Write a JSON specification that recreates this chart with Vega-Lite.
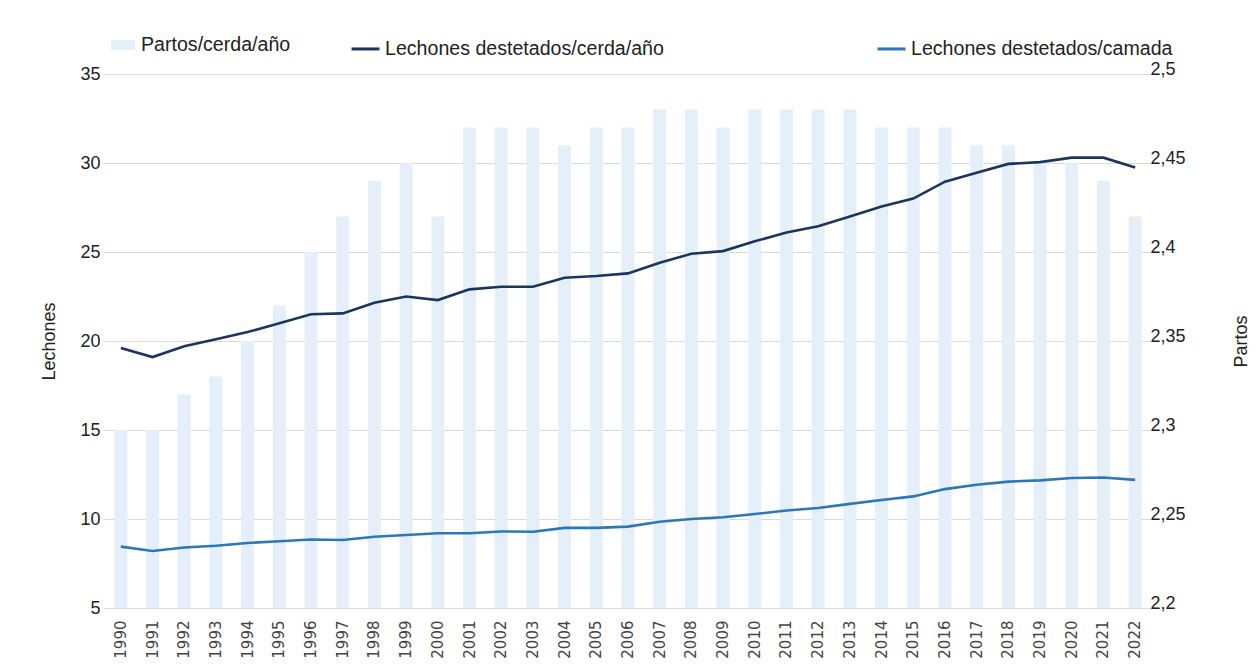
{
  "$schema": "https://vega.github.io/schema/vega-lite/v6.json",
  "width": 1046,
  "height": 534,
  "autosize": {"type": "none"},
  "padding": {"left": 105, "top": 74, "right": 109, "bottom": 60},
  "background": "white",
  "config": {
    "view": {"stroke": null},
    "font": "Liberation Sans",
    "axis": {"labelFont": "Liberation Sans", "titleFont": "Liberation Sans", "titleFontWeight": "normal", "labelColor": "#222222", "titleColor": "#222222"},
    "legend": {"labelFont": "Liberation Sans", "labelFontSize": 19.6, "labelColor": "#222222", "padding": 0, "labelLimit": 0}
  },
  "data": {
    "values": [
      {"year": "1990", "partos": 2.30, "cerda": 19.6, "camada": 8.45},
      {"year": "1991", "partos": 2.30, "cerda": 19.1, "camada": 8.2},
      {"year": "1992", "partos": 2.32, "cerda": 19.7, "camada": 8.4},
      {"year": "1993", "partos": 2.33, "cerda": 20.1, "camada": 8.5},
      {"year": "1994", "partos": 2.35, "cerda": 20.5, "camada": 8.65},
      {"year": "1995", "partos": 2.37, "cerda": 21.0, "camada": 8.75},
      {"year": "1996", "partos": 2.40, "cerda": 21.5, "camada": 8.85},
      {"year": "1997", "partos": 2.42, "cerda": 21.55, "camada": 8.82},
      {"year": "1998", "partos": 2.44, "cerda": 22.15, "camada": 9.0},
      {"year": "1999", "partos": 2.45, "cerda": 22.5, "camada": 9.1},
      {"year": "2000", "partos": 2.42, "cerda": 22.3, "camada": 9.2},
      {"year": "2001", "partos": 2.47, "cerda": 22.9, "camada": 9.2},
      {"year": "2002", "partos": 2.47, "cerda": 23.05, "camada": 9.3},
      {"year": "2003", "partos": 2.47, "cerda": 23.05, "camada": 9.28},
      {"year": "2004", "partos": 2.46, "cerda": 23.55, "camada": 9.5},
      {"year": "2005", "partos": 2.47, "cerda": 23.65, "camada": 9.5},
      {"year": "2006", "partos": 2.47, "cerda": 23.8, "camada": 9.57},
      {"year": "2007", "partos": 2.48, "cerda": 24.4, "camada": 9.85},
      {"year": "2008", "partos": 2.48, "cerda": 24.9, "camada": 10.0},
      {"year": "2009", "partos": 2.47, "cerda": 25.05, "camada": 10.1},
      {"year": "2010", "partos": 2.48, "cerda": 25.6, "camada": 10.28},
      {"year": "2011", "partos": 2.48, "cerda": 26.1, "camada": 10.48},
      {"year": "2012", "partos": 2.48, "cerda": 26.45, "camada": 10.62},
      {"year": "2013", "partos": 2.48, "cerda": 27.0, "camada": 10.85},
      {"year": "2014", "partos": 2.47, "cerda": 27.55, "camada": 11.07},
      {"year": "2015", "partos": 2.47, "cerda": 28.0, "camada": 11.27},
      {"year": "2016", "partos": 2.47, "cerda": 28.95, "camada": 11.68},
      {"year": "2017", "partos": 2.46, "cerda": 29.45, "camada": 11.92},
      {"year": "2018", "partos": 2.46, "cerda": 29.95, "camada": 12.1},
      {"year": "2019", "partos": 2.45, "cerda": 30.05, "camada": 12.17},
      {"year": "2020", "partos": 2.45, "cerda": 30.3, "camada": 12.3},
      {"year": "2021", "partos": 2.44, "cerda": 30.3, "camada": 12.33},
      {"year": "2022", "partos": 2.42, "cerda": 29.75, "camada": 12.2}
    ]
  },
  "encoding": {
    "x": {
      "field": "year",
      "type": "ordinal",
      "scale": {"paddingInner": 0, "paddingOuter": 0},
      "axis": {
        "title": null,
        "labelAngle": -90,
        "labelFont": "DejaVu Sans",
        "labelFontSize": 15,
        "labelColor": "#444444",
        "labelPadding": 12,
        "ticks": false,
        "domain": true,
        "domainColor": "#d9d9d9",
        "grid": false
      }
    }
  },
  "layer": [
    {
      "mark": {"type": "bar", "width": 13},
      "encoding": {
        "y": {
          "field": "partos",
          "type": "quantitative",
          "scale": {"domain": [2.2, 2.5], "zero": false, "nice": false},
          "axis": {
            "orient": "right",
            "title": "Partos",
            "titleFontSize": 18,
            "titleAngle": -90,
            "titlePadding": 65,
            "values": [2.2, 2.25, 2.3, 2.35, 2.4, 2.45, 2.5],
            "labelExpr": "replace(format(datum.value, '.2~f'), '.', ',')",
            "labelFontSize": 18,
            "labelBaseline": "alphabetic",
            "labelPadding": -1,
            "ticks": false,
            "domain": false,
            "grid": false
          }
        },
        "y2": {"datum": 2.2},
        "fill": {
          "datum": "Partos/cerda/año",
          "type": "nominal",
          "scale": {"range": ["#e5effa"]},
          "legend": {
            "title": null,
            "orient": "none",
            "legendX": 6,
            "legendY": -41,
            "symbolType": "M-1,-0.42H1V0.42H-1Z",
            "symbolSize": 576,
            "symbolStrokeWidth": 0,
            "labelOffset": 6
          }
        }
      }
    },
    {
      "transform": [{"fold": ["cerda", "camada"], "as": ["serie", "valor"]}],
      "mark": {"type": "line", "strokeWidth": 2.6},
      "encoding": {
        "y": {
          "field": "valor",
          "type": "quantitative",
          "scale": {"domain": [5, 35], "nice": false, "zero": false},
          "axis": {
            "orient": "left",
            "title": "Lechones",
            "titleFontSize": 18,
            "titlePadding": 21,
            "values": [5, 10, 15, 20, 25, 30, 35],
            "labelFontSize": 18,
            "labelPadding": 3,
            "tickSize": 2,
            "tickColor": "#d9d9d9",
            "domain": false,
            "grid": true,
            "gridColor": "#d9d9d9"
          }
        },
        "stroke": {
          "field": "serie",
          "type": "nominal",
          "scale": {"domain": ["cerda", "camada"], "range": ["#1c355e", "#2b78b8"]},
          "legend": {
            "title": null,
            "orient": "none",
            "direction": "horizontal",
            "columns": 2,
            "columnPadding": 207,
            "legendX": 245,
            "legendY": -41,
            "symbolType": "stroke",
            "symbolSize": 784,
            "symbolStrokeWidth": 3,
            "labelOffset": 4,
            "labelExpr": "datum.value == 'cerda' ? 'Lechones destetados/cerda/año' : 'Lechones destetados/camada'"
          }
        }
      }
    }
  ],
  "resolve": {"scale": {"y": "independent"}}
}
